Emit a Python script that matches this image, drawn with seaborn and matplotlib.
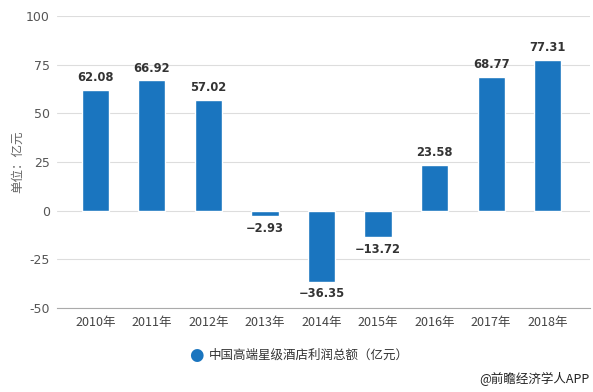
import matplotlib
matplotlib.use("Agg")
import matplotlib.pyplot as plt
import seaborn as sns
import pandas as pd

years = ["2010年", "2011年", "2012年", "2013年", "2014年", "2015年", "2016年", "2017年", "2018年"]
profits = [62.08, 66.92, 57.02, -2.93, -36.35, -13.72, 23.58, 68.77, 77.31]
yticks = [-50, -25, 0, 25, 50, 75, 100]
series_name = "中国高端星级酒店利润总额（亿元）"

sns.set_theme(style="white")
plt.rcParams['font.family'] = ['Noto Sans CJK SC', 'DejaVu Sans']
plt.rcParams['axes.unicode_minus'] = False

df = pd.DataFrame({"year": years, "profit": profits})

fig = plt.figure(figsize=(5.93, 3.92), dpi=100)
ax = fig.add_axes([0.096, 0.214, 0.899, 0.745])

bar_color = "#1a75bf"
sns.barplot(data=df, x="year", y="profit", color=bar_color, width=0.48,
            saturation=1, ax=ax, zorder=3)

ax.set_ylim(-50, 100)
ax.set_yticks(yticks)
ax.set_yticklabels([str(t) for t in yticks], color="#555555", fontsize=9,
                   family=['DejaVu Sans'])
ax.set_xlim(-0.68, 8.75)
ax.grid(axis="y", color="#dddddd", linewidth=0.8, zorder=0)
for s in ["top", "right", "left"]:
    ax.spines[s].set_visible(False)
ax.spines["bottom"].set_position(("data", -50))
ax.spines["bottom"].set_color("#aaaaaa")
ax.spines["bottom"].set_linewidth(0.8)
ax.tick_params(axis="x", length=4, color="#aaaaaa", labelsize=9, labelcolor="#444444", pad=2)
ax.tick_params(axis="y", length=0, pad=5)
ax.set_xlabel("")
ax.set_ylabel("单位：亿元", color="#666666", fontsize=9)
ax.yaxis.set_label_coords(-0.062, 0.5)

for i, v in enumerate(profits):
    label = f"{v:.2f}".replace("-", "−")
    if v >= 0:
        ax.text(i, v + 3, label, ha="center", va="bottom", fontsize=8.3,
                fontweight="bold", color="#333333", family=['DejaVu Sans'])
    else:
        ax.text(i, v - 3, label, ha="center", va="top", fontsize=8.3,
                fontweight="bold", color="#333333", family=['DejaVu Sans'])

# legend
fig.text(196 / 593, 1 - 355 / 392, "●", color=bar_color, fontsize=12,
         ha="center", va="center", family=['DejaVu Sans'])
fig.text(209 / 593, 1 - 355 / 392, series_name, color="#333333", fontsize=9,
         ha="left", va="center")
fig.text(589 / 593, 1 - 379 / 392, "@前瞻经济学人APP", color="#222222", fontsize=9,
         ha="right", va="center")

fig.savefig("out.png", dpi=100)
